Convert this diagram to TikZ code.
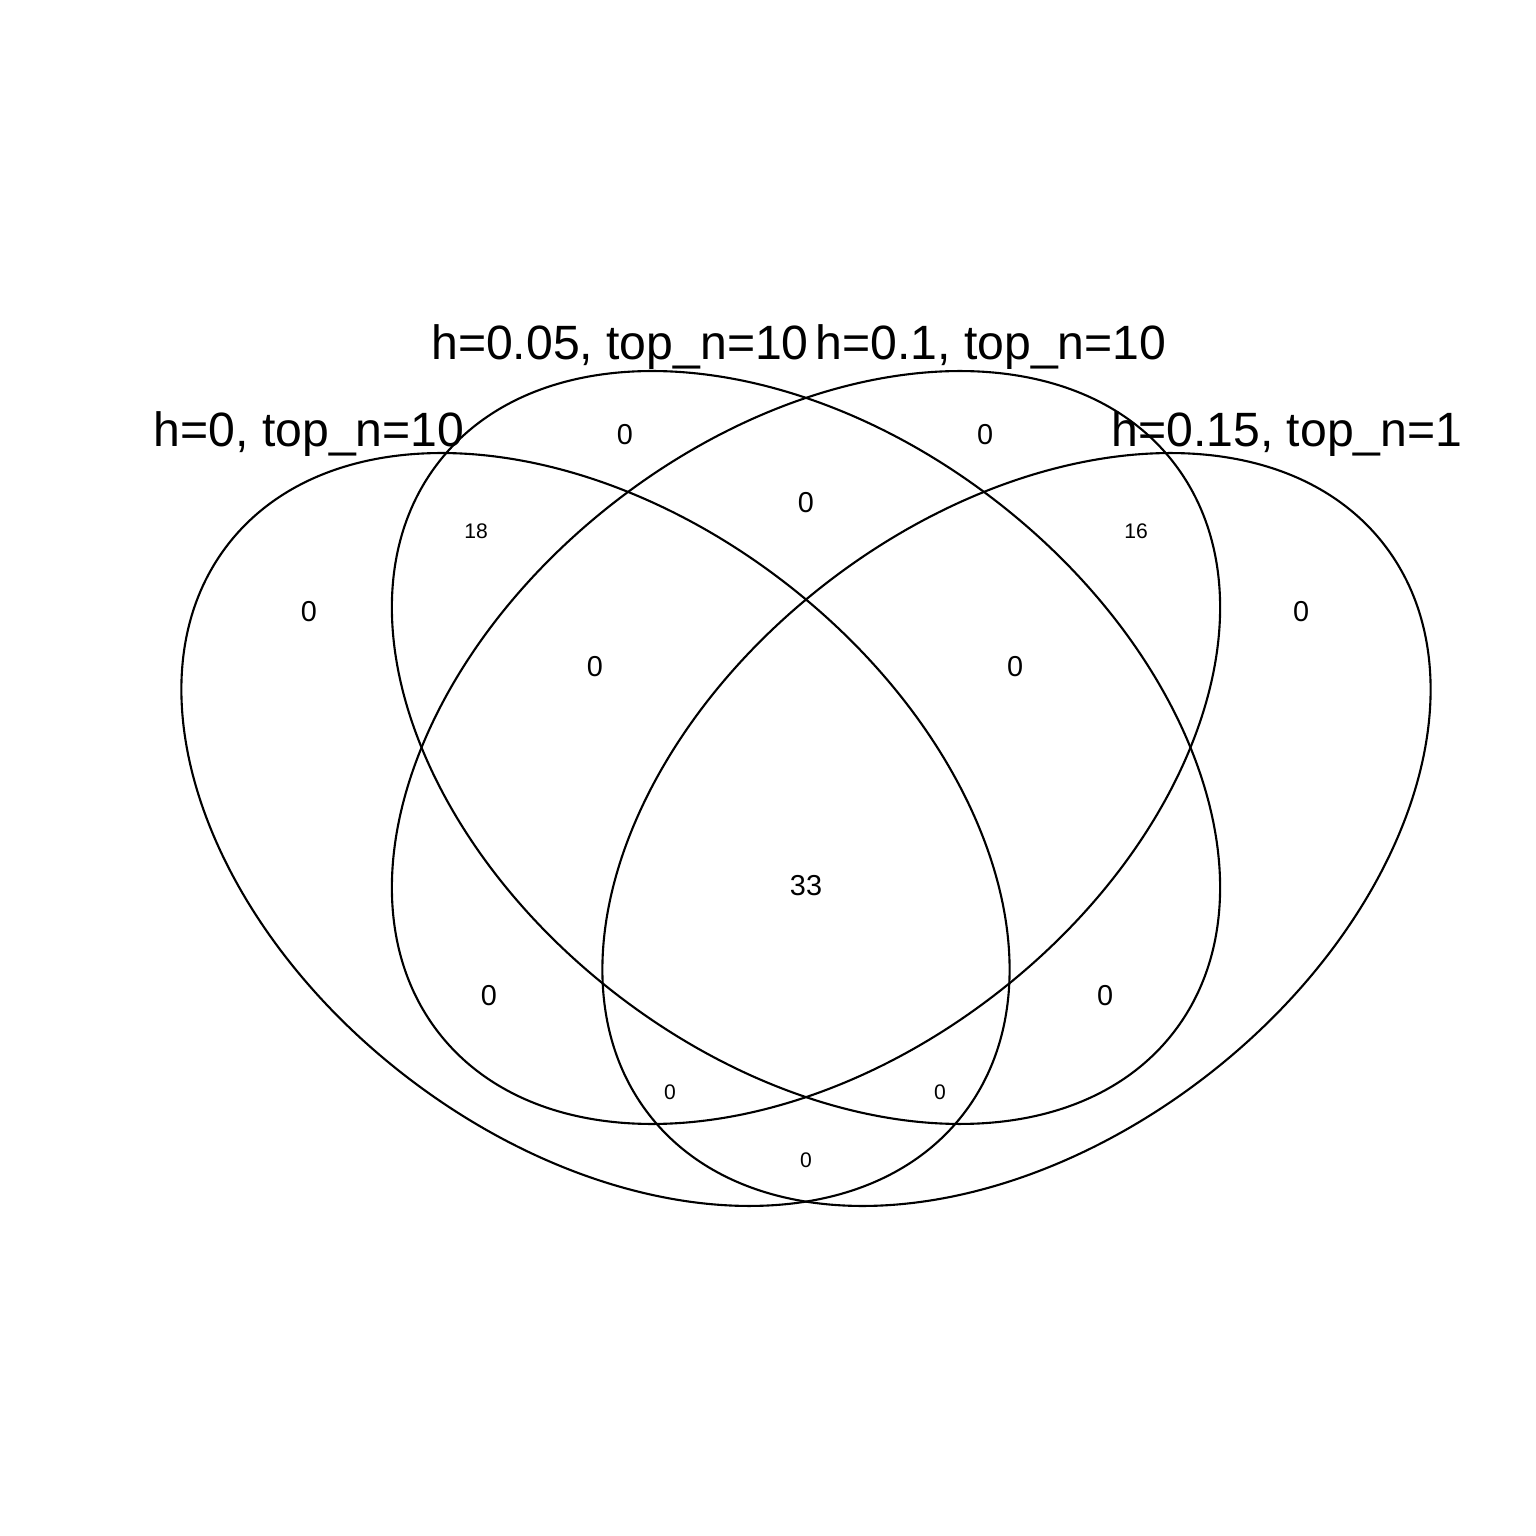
\documentclass[tikz,border=0pt]{standalone}
\usepackage{fontspec}
\setmainfont{Liberation Sans}
\begin{document}
\begin{tikzpicture}[
  setline/.style={draw=black, line width=0.6pt},
  cattext/.style={font=\fontsize{13.7}{16}\selectfont, inner sep=0pt, anchor=base},
  bignum/.style={font=\fontsize{8.2}{10}\selectfont, inner sep=0pt},
  smallnum/.style={font=\fontsize{6}{7}\selectfont, inner sep=0pt}
]
\fill[white] (0,0) rectangle (15.36,15.36);
\useasboundingbox (0,0) rectangle (15.36,15.36);
% ellipses (px -> cm: x/100, (1536-y)/100)
\coordinate (cA) at (5.955,7.065);
\coordinate (cB) at (8.06,7.885);
\coordinate (cC) at (8.06,7.885);
\coordinate (cD) at (10.165,7.065);
\draw[setline, rotate around={-37.8:(cA)}] (cA) ellipse [x radius=4.651cm, y radius=3.112cm];
\draw[setline, rotate around={-37.8:(cB)}] (cB) ellipse [x radius=4.651cm, y radius=3.112cm];
\draw[setline, rotate around={37.8:(cC)}] (cC) ellipse [x radius=4.651cm, y radius=3.112cm];
\draw[setline, rotate around={37.8:(cD)}] (cD) ellipse [x radius=4.651cm, y radius=3.112cm];
% category labels
\node[cattext] (tA) at (3.09,10.89) {h=0, top\_n=10};
\node[cattext] (tB) at (6.20,11.76) {h=0.05, top\_n=10};
\node[cattext] (tC) at (9.91,11.76) {h=0.1, top\_n=10};
\node[cattext] (tD) at (12.87,10.89) {h=0.15, top\_n=1};
% area counts
\node[bignum] (n1) at (6.25,11.01) {0};
\node[bignum] (n2) at (9.85,11.01) {0};
\node[bignum] (n3) at (8.06,10.33) {0};
\node[smallnum] (n4) at (4.76,10.05) {18};
\node[smallnum] (n5) at (11.36,10.05) {16};
\node[bignum] (n6) at (3.09,9.24) {0};
\node[bignum] (n7) at (13.01,9.24) {0};
\node[bignum] (n8) at (5.95,8.69) {0};
\node[bignum] (n9) at (10.15,8.69) {0};
\node[bignum] (n10) at (8.06,6.50) {33};
\node[bignum] (n11) at (4.89,5.40) {0};
\node[bignum] (n12) at (11.05,5.40) {0};
\node[smallnum] (n13) at (6.70,4.44) {0};
\node[smallnum] (n14) at (9.40,4.44) {0};
\node[smallnum] (n15) at (8.06,3.76) {0};
\end{tikzpicture}
\end{document}
